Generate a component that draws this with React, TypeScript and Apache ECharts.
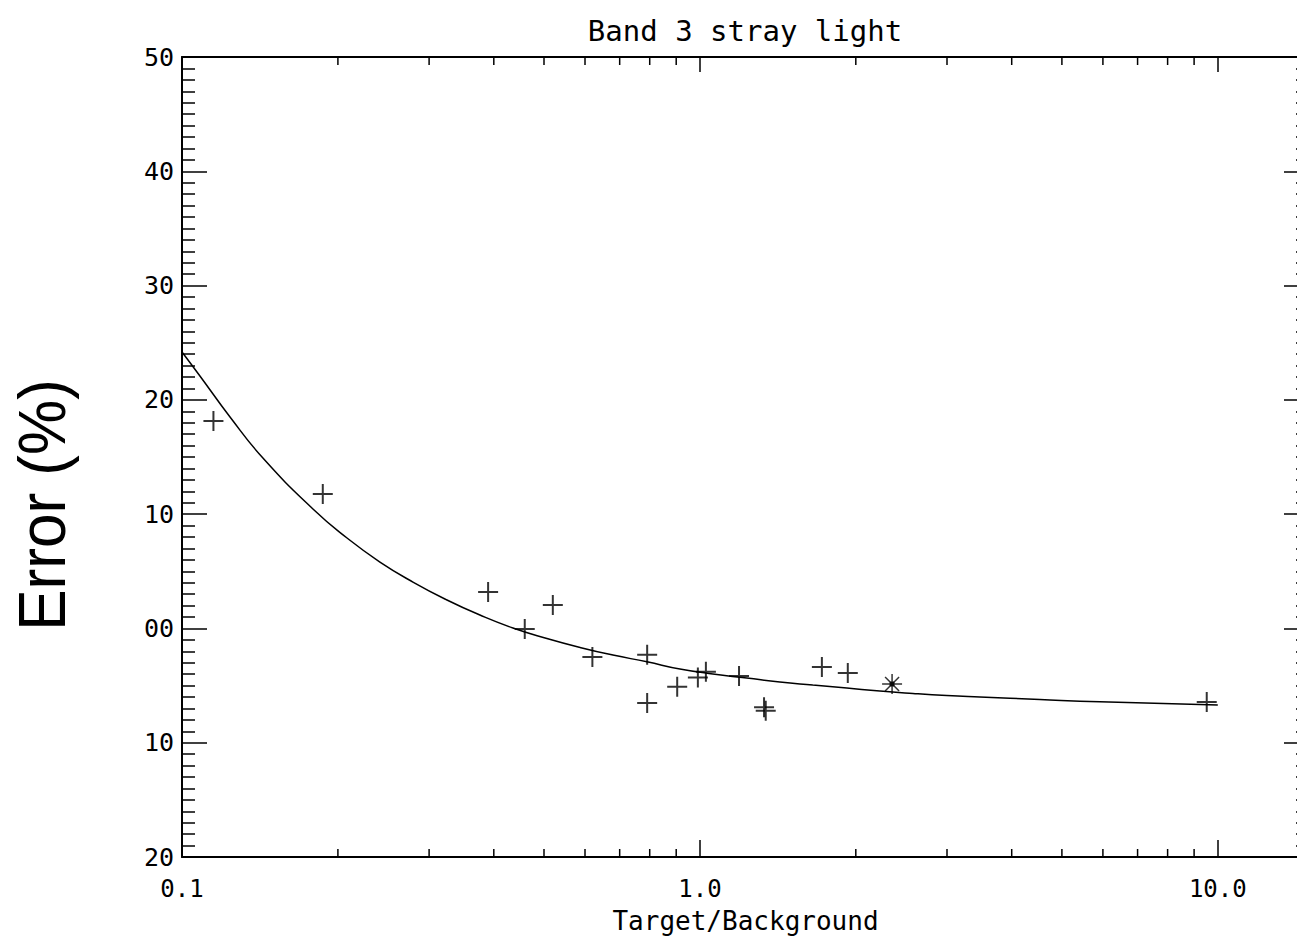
import React, { useEffect, useRef } from 'react';
import * as echarts from 'echarts';

// Measured points ("+" symbols)
const crossX = [0.115, 0.187, 0.390, 0.459, 0.520, 0.620, 0.791, 0.791, 0.904, 0.991, 1.027, 1.19, 1.33, 1.34, 1.72, 1.93, 9.52];
const crossY = [18.15, 11.76, 3.19, -0.05, 2.05, -2.5, -2.3, -6.52, -5.1, -4.3, -3.8, -4.16, -6.9, -7.2, -3.37, -3.9, -6.43];

// Asterisk point
const starX = [2.35];
const starY = [-4.86];

// Fitted curve
const fitX = [0.1, 0.1083, 0.1238, 0.1433, 0.179, 0.2083, 0.2411, 0.2792, 0.3248, 0.3761, 0.4355, 0.5065, 0.5865, 0.6792, 0.7901, 0.915, 1.0595, 1.232, 1.427, 1.652, 1.922, 2.226, 2.578, 2.998, 3.472, 4.533, 5.918, 10.0];
const fitY = [24.19, 22.09, 18.5, 14.91, 10.45, 7.91, 5.81, 4.06, 2.49, 1.17, 0.04, -0.88, -1.66, -2.33, -2.92, -3.55, -3.99, -4.34, -4.69, -4.95, -5.21, -5.48, -5.69, -5.87, -6.0, -6.22, -6.42, -6.7];

// Axis ticks / labels
const xTickValues = [0.1, 1, 10];
const xTickLabels = ['0.1', '1.0', '10.0'];
const xMinorTicks = [0.2, 0.3, 0.4, 0.5, 0.6, 0.7, 0.8, 0.9, 2, 3, 4, 5, 6, 7, 8, 9];
const yTickValues = [-20, -10, 0, 10, 20, 30, 40, 50];
const yTickLabels = ['20', '10', '00', '10', '20', '30', '40', '50'];

const TITLE = 'Band 3 stray light';
const X_NAME = 'Target/Background';
const Y_NAME = 'Error (%)';

const MONO = '"DejaVu Sans Mono", monospace';

export default function App() {
  const ref = useRef<HTMLDivElement>(null);

  useEffect(() => {
    if (!ref.current) return;
    const chart = echarts.init(ref.current, null, { renderer: 'svg' });

    const xFmt = (v: number) => {
      const i = xTickValues.findIndex((t) => Math.abs(Math.log10(t) - Math.log10(v)) < 1e-6);
      return i >= 0 ? xTickLabels[i] : '';
    };
    const yFmt = (v: number) => {
      const i = yTickValues.findIndex((t) => Math.abs(t - v) < 1e-6);
      return i >= 0 ? yTickLabels[i] : '';
    };

    const lineCol = '#000';

    const option: any = {
      animation: false,
      backgroundColor: '#fff',
      grid: { left: 182, top: 57, width: 1127, height: 800, containLabel: false },
      graphic: [
        {
          type: 'text',
          x: 745,
          y: 31,
          style: { text: TITLE, font: `29px ${MONO}`, fill: '#000', align: 'center', verticalAlign: 'middle' },
        },
        {
          type: 'text',
          x: 42,
          y: 505,
          rotation: Math.PI / 2,
          scaleX: 0.94,
          style: { text: Y_NAME, font: '66px "Liberation Sans", Arial, sans-serif', fill: '#000', align: 'center', verticalAlign: 'middle' },
        },
      ],
      xAxis: [
        {
          type: 'log',
          logBase: 10,
          min: 0.1,
          max: 15,
          position: 'bottom',
          name: X_NAME,
          nameLocation: 'middle',
          nameGap: 51,
          nameTextStyle: { fontFamily: MONO, fontSize: 26, color: '#000' },
          axisLine: { show: true, onZero: false, lineStyle: { color: lineCol, width: 2 } },
          axisTick: { show: true, inside: true, length: 17, lineStyle: { color: lineCol, width: 1.5 } },
          minorTick: { show: false },
          splitLine: { show: false },
          axisLabel: { show: true, margin: 20, fontFamily: MONO, fontSize: 24, color: '#000', formatter: xFmt },
        },
        {
          type: 'log',
          logBase: 10,
          min: 0.1,
          max: 15,
          position: 'top',
          axisLine: { show: true, onZero: false, lineStyle: { color: lineCol, width: 2 } },
          axisTick: { show: true, inside: true, length: 15, lineStyle: { color: lineCol, width: 1.5 } },
          splitLine: { show: false },
          axisLabel: { show: false },
        },
      ],
      yAxis: [
        {
          type: 'value',
          min: -20,
          max: 50,
          interval: 10,
          position: 'left',
          axisLine: { show: true, onZero: false, lineStyle: { color: lineCol, width: 2 } },
          axisTick: { show: true, inside: true, length: 25, lineStyle: { color: lineCol, width: 1.5 } },
          minorTick: { show: true, splitNumber: 10, length: 13, lineStyle: { color: lineCol, width: 1.5 } },
          splitLine: { show: false },
          minorSplitLine: { show: false },
          axisLabel: { show: true, margin: 8, fontFamily: MONO, fontSize: 25, color: '#000', formatter: yFmt },
        },
        {
          type: 'value',
          min: -20,
          max: 50,
          interval: 10,
          position: 'right',
          axisLine: { show: true, onZero: false, lineStyle: { color: lineCol, width: 2 } },
          axisTick: { show: true, inside: true, length: 25, lineStyle: { color: lineCol, width: 1.5 } },
          minorTick: { show: true, splitNumber: 10, length: 13, lineStyle: { color: lineCol, width: 1.5 } },
          splitLine: { show: false },
          minorSplitLine: { show: false },
          axisLabel: { show: false },
        },
      ],
      series: [
        {
          type: 'custom',
          name: 'xMinor',
          xAxisIndex: 0,
          yAxisIndex: 0,
          silent: true,
          clip: false,
          data: xMinorTicks.map((v) => [v, -20]),
          encode: { x: 0, y: 1 },
          renderItem: (params: any, api: any) => {
            const v = api.value(0);
            const pb = api.coord([v, -20]);
            const pt = api.coord([v, 50]);
            return {
              type: 'group',
              children: [
                { type: 'line', shape: { x1: pb[0], y1: pb[1], x2: pb[0], y2: pb[1] - 8 }, style: { stroke: '#000', lineWidth: 1.5 } },
                { type: 'line', shape: { x1: pt[0], y1: pt[1], x2: pt[0], y2: pt[1] + 8 }, style: { stroke: '#000', lineWidth: 1.5 } },
              ],
            };
          },
        },
        {
          type: 'line',
          name: 'fit',
          data: fitX.map((x, i) => [x, fitY[i]]),
          showSymbol: false,
          symbol: 'none',
          smooth: 0.5,
          lineStyle: { color: '#000', width: 1.5 },
          silent: true,
        },
        {
          type: 'scatter',
          name: 'points',
          data: crossX.map((x, i) => [x, crossY[i]]),
          symbol: 'path://M9,0h2v20h-2z M0,9h20v2h-20z',
          symbolSize: 20,
          itemStyle: { color: '#000' },
          silent: true,
        },
        {
          type: 'scatter',
          name: 'star',
          data: starX.map((x, i) => [x, starY[i]]),
          symbol: 'path://M10,0L10,20M0,10L20,10M3,3L17,17M3,17L17,3M8,8h4v4h-4z',
          symbolSize: 20,
          itemStyle: { color: '#000', borderColor: '#000', borderWidth: 1.5 },
          silent: true,
        },
      ],
    };

    chart.setOption(option);
    return () => chart.dispose();
  }, []);

  return (
    <div style={{ position: 'absolute', left: 0, top: 0, width: 1297, height: 941, overflow: 'hidden', background: '#fff' }}>
      <div ref={ref} style={{ width: 1330, height: 941 }} />
    </div>
  );
}
